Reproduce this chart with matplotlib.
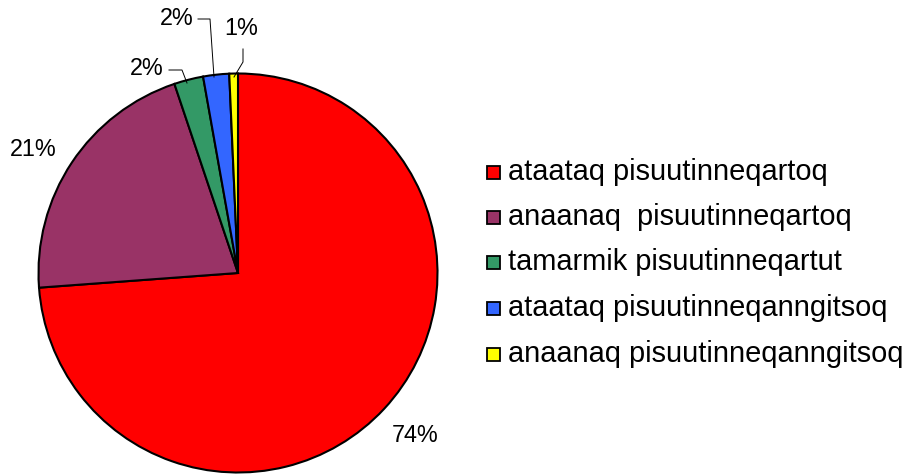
import matplotlib.pyplot as plt
from matplotlib.patches import Rectangle

# slice shares (percent)
labels = ['ataataq pisuutinneqartoq',
          'anaanaq  pisuutinneqartoq',
          'tamarmik pisuutinneqartut',
          'ataataq pisuutinneqanngitsoq',
          'anaanaq pisuutinneqanngitsoq']
shares = [73.8, 21.0, 2.36, 2.1, 0.7]
colors = ['#FF0000', '#993366', '#339966', '#3366FF', '#FFFF00']

plt.rcParams['font.family'] = ['Liberation Sans', 'DejaVu Sans']

W, H = 913, 474
fig = plt.figure(figsize=(W / 100, H / 100), dpi=100)
ax = fig.add_axes([0, 0, 1, 1])
ax.set_xlim(0, W)
ax.set_ylim(0, H)
ax.set_aspect('equal')
ax.axis('off')

# pie in pixel coordinates (y measured from the bottom)
wedges, _ = ax.pie(shares, colors=colors, startangle=90, counterclock=False,
                   center=(238, H - 273), radius=199.5,
                   wedgeprops=dict(edgecolor='black', linewidth=1.5))
ax.set_xlim(0, W)
ax.set_ylim(0, H)

pct = ['%d%%' % round(s) for s in shares]
lab_pos = [(415, 436), (33, 149), (147, 68), (177, 18), (241, 28)]
for txt, (x, y) in zip(pct, lab_pos):
    ax.text(x, H - y, txt, fontsize=16.8, ha='center', va='center')

# leader lines for the small slices
leaders = [[(169, 70), (182, 70), (187, 83)],
           [(198, 19), (210, 19), (214, 77)],
           [(243, 49), (243, 62), (234, 77)]]
for pts in leaders:
    ax.plot([p[0] for p in pts], [H - p[1] for p in pts],
            color='black', linewidth=0.7)

# legend
row_y = [172, 217, 262, 308, 354]
for lab, col, y in zip(labels, colors, row_y):
    ax.add_patch(Rectangle((487, H - y - 7), 13, 13, facecolor=col,
                           edgecolor='black', linewidth=1.3))
    ax.text(508, H - y, lab, fontsize=20.9, ha='left', va='center')

fig.savefig('out.png', dpi=100)
